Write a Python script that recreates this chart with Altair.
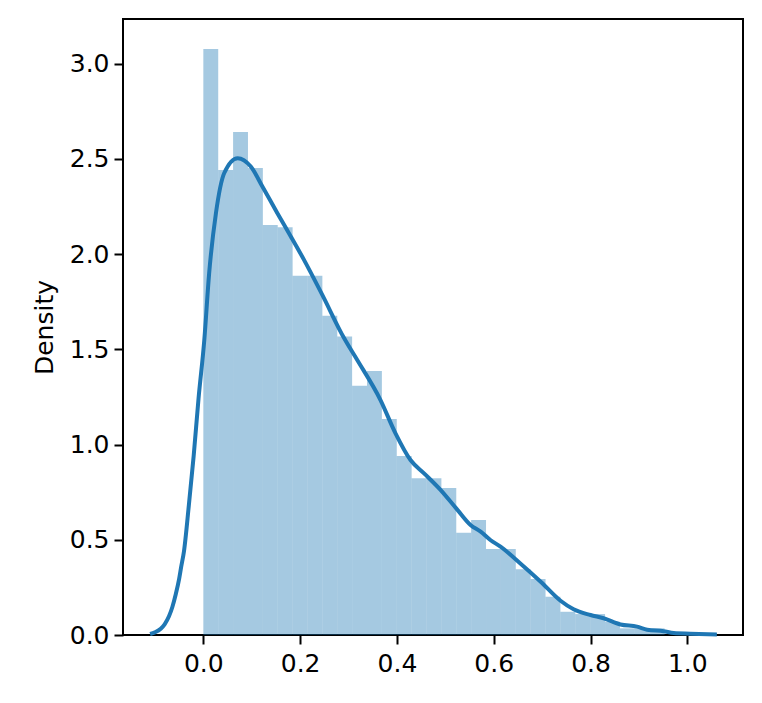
import altair as alt
import pandas as pd

# Histogram (density) values, bins start at 0 with constant width
bin_width = 0.03074
densities = [3.077, 2.442, 2.642, 2.453, 2.153, 2.141, 1.886, 1.886, 1.677, 1.567,
             1.309, 1.387, 1.134, 0.940, 0.823, 0.823, 0.772, 0.537, 0.604, 0.452,
             0.452, 0.345, 0.294, 0.201, 0.122, 0.110, 0.110, 0.070, 0.035, 0.035,
             0.035]

# KDE curve
kde_x = [-0.110, -0.100, -0.088, -0.080, -0.071, -0.064, -0.057, -0.050, -0.046, -0.040,
         -0.030, -0.020, -0.010, 0.002, 0.012, 0.026, 0.043, 0.071, 0.098, 0.122,
         0.153, 0.181, 0.208, 0.245, 0.291, 0.318, 0.366, 0.397, 0.428, 0.456,
         0.490, 0.525, 0.552, 0.573, 0.593, 0.614, 0.655, 0.697, 0.738, 0.765,
         0.800, 0.827, 0.862, 0.896, 0.917, 0.951, 0.972, 1.006, 1.061]
kde_y = [0.005, 0.014, 0.033, 0.056, 0.098, 0.147, 0.214, 0.295, 0.355, 0.440,
         0.680, 0.940, 1.240, 1.550, 1.900, 2.215, 2.425, 2.504, 2.460, 2.355,
         2.215, 2.092, 1.970, 1.790, 1.558, 1.444, 1.234, 1.059, 0.919, 0.849,
         0.762, 0.657, 0.578, 0.543, 0.499, 0.464, 0.376, 0.280, 0.180, 0.135,
         0.105, 0.088, 0.055, 0.044, 0.028, 0.020, 0.010, 0.007, 0.003]

x_ticks = [0.0, 0.2, 0.4, 0.6, 0.8, 1.0]
y_ticks = [0.0, 0.5, 1.0, 1.5, 2.0, 2.5, 3.0]

hist = pd.DataFrame({
    "x0": [i * bin_width for i in range(len(densities))],
    "x1": [(i + 1) * bin_width for i in range(len(densities))],
    "d": densities,
})
kde = pd.DataFrame({"x": kde_x, "y": kde_y})

FONT = "DejaVu Sans"
FS = 25
xscale = alt.Scale(domain=[-0.166, 1.115], nice=False, zero=False)
yscale = alt.Scale(domain=[0, 3.235], nice=False)

xaxis = alt.Axis(values=x_ticks, format=".1f", title=None, grid=False, domain=False,
                 tickColor="black", tickSize=9, tickWidth=2, labelPadding=7,
                 labelFontSize=FS, labelFont=FONT, labelColor="black")
yaxis = alt.Axis(values=y_ticks, format=".1f", title="Density", grid=False, domain=False,
                 tickColor="black", tickSize=9, tickWidth=2, labelPadding=5,
                 labelFontSize=FS, labelFont=FONT, labelColor="black",
                 titleFontSize=FS, titleFont=FONT, titleFontWeight="normal",
                 titleColor="black", titlePadding=12)

bars = alt.Chart(hist).mark_rect(color="#1f77b4", opacity=0.4).encode(
    x=alt.X("x0:Q", scale=xscale, axis=xaxis),
    x2="x1:Q",
    y=alt.Y("d:Q", scale=yscale, axis=yaxis),
    y2=alt.datum(0),
)

line = alt.Chart(kde).mark_line(color="#1f77b4", strokeWidth=4, interpolate="monotone").encode(
    x=alt.X("x:Q", scale=xscale),
    y=alt.Y("y:Q", scale=yscale),
)

chart = alt.layer(bars, line).properties(
    width=620, height=616,
    autosize=alt.AutoSizeParams(type="none"),
    padding={"left": 115, "top": 11, "right": 11, "bottom": 60},
    background="white",
).configure_view(stroke="black", strokeWidth=2)

chart.save("out.html", embed_options={"renderer": "svg", "actions": False})
